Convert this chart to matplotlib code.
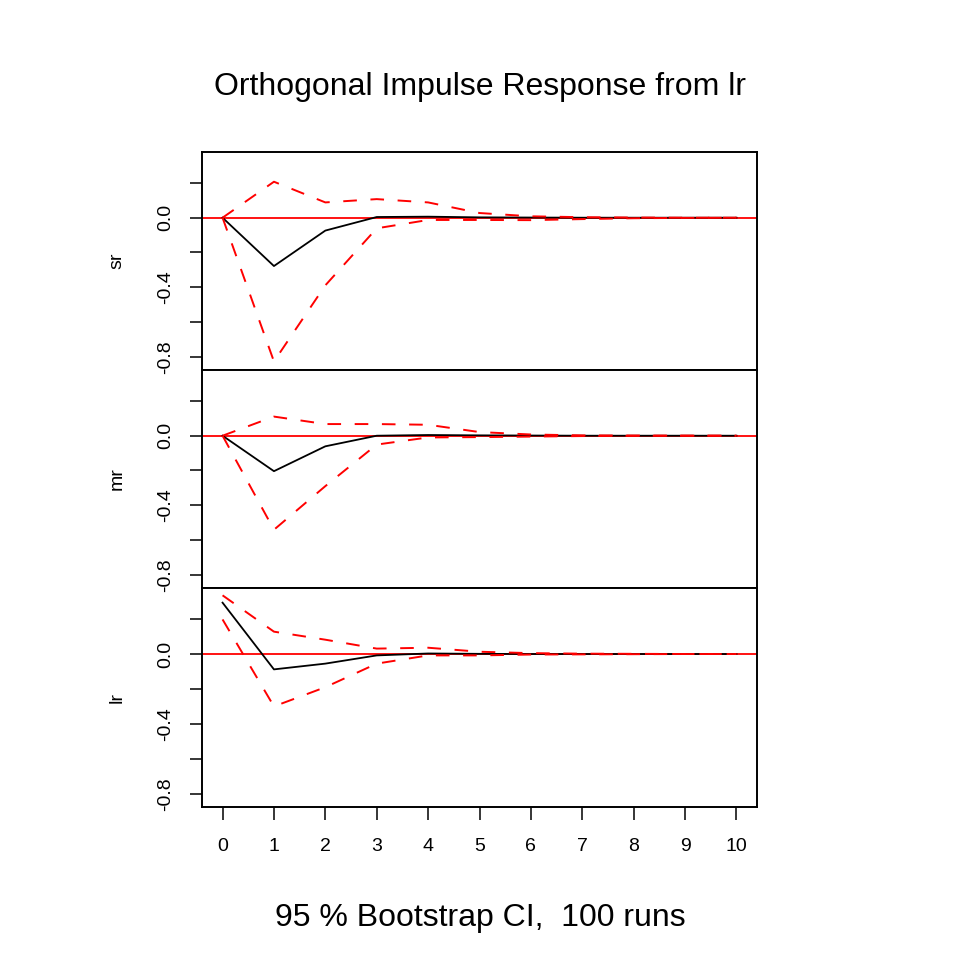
import numpy as np
import matplotlib
matplotlib.use('Agg')
import matplotlib.pyplot as plt

plt.rcParams['font.family'] = ['Liberation Sans', 'DejaVu Sans']

# horizon
pasos = list(range(11))

# respuesta de sr
sr_irf = [0, -0.278, -0.074, 0.004, 0.006, 0.002, 0.001, 0, 0, 0, 0]
sr_upper = [0, 0.207, 0.088, 0.107, 0.088, 0.027, 0.008, 0.003, 0.001, 0.0, 0.0]
sr_lower = [0, -0.827, -0.389, -0.061, -0.013, -0.013, -0.014, -0.008, -0.003, -0.001, 0.0]

# respuesta de mr
mr_irf = [0, -0.204, -0.061, 0.0, 0.004, 0.002, 0.001, 0, 0, 0, 0]
mr_upper = [0, 0.11, 0.067, 0.067, 0.063, 0.021, 0.007, 0.002, 0.001, 0, 0]
mr_lower = [0, -0.541, -0.29, -0.051, -0.01, -0.008, -0.005, -0.002, -0.001, 0, 0]

# respuesta de lr
lr_irf = [0.294, -0.088, -0.055, -0.008, 0.003, 0.001, 0, 0, 0, 0, 0]
lr_upper = [0.336, 0.128, 0.082, 0.031, 0.036, 0.013, 0.005, 0.002, 0.001, 0, 0]
lr_lower = [0.198, -0.30, -0.19, -0.055, -0.008, -0.008, -0.003, -0.002, -0.001, 0, 0]

nombres = ['sr', 'mr', 'lr']
irfs = [sr_irf, mr_irf, lr_irf]
uppers = [sr_upper, mr_upper, lr_upper]
lowers = [sr_lower, mr_lower, lr_lower]

yticks = [-0.8, -0.6, -0.4, -0.2, 0.0, 0.2]
yticklabels = ['-0.8', '', '-0.4', '', '0.0', '']

fig = plt.figure(figsize=(9.6, 9.6), dpi=100)

W = 960.0
left = 202 / W
ancho = (757 - 202) / W
bordes = [152, 370, 588, 807]

for i in range(3):
    top = bordes[i]
    bot = bordes[i + 1]
    ax = fig.add_axes([left, 1 - bot / W, ancho, (bot - top) / W])
    ax.axhline(0, color='red', lw=1.3)
    ax.plot(pasos, irfs[i], color='black', lw=1.3)
    ax.plot(pasos, uppers[i], color='red', lw=1.4, dashes=(7, 7))
    ax.plot(pasos, lowers[i], color='red', lw=1.4, dashes=(7, 7))
    ax.set_xlim(-0.4, 10.4)
    ax.set_ylim(-0.876, 0.378)
    ax.set_yticks(yticks)
    ax.set_yticklabels(yticklabels, rotation=90, va='center')
    ax.tick_params(axis='y', length=9, width=1.1, pad=11, labelsize=14)
    for s in ax.spines.values():
        s.set_linewidth(1.4)
    if i < 2:
        ax.set_xticks([])
    else:
        ax.set_xticks(pasos)
        ax.tick_params(axis='x', length=9, width=1.1, pad=13, labelsize=14)
    fig.text(117 / W, 1 - (top + bot) / 2 / W, nombres[i], rotation=90,
             ha='center', va='center', fontsize=14)

fig.text(0.5, 1 - 87 / W, 'Orthogonal Impulse Response from lr',
         ha='center', va='center', fontsize=23)
fig.text(0.5, 1 - 918 / W, '95 % Bootstrap CI,  100 runs',
         ha='center', va='center', fontsize=23)

plt.savefig('out.png', dpi=100)
